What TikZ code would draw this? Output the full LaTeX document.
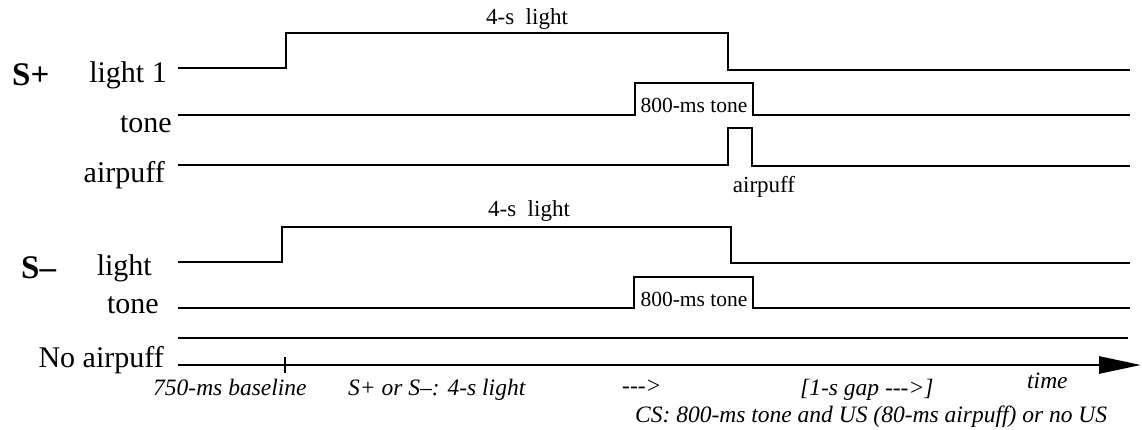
\documentclass[tikz,border=0pt]{standalone}
\usepackage{fontspec}
\setmainfont{Liberation Serif}
\usetikzlibrary{arrows.meta}
\tikzset{
  sig/.style={line width=2.8pt, line join=miter},
  lab/.style={font=\fontsize{30}{34}\selectfont, inner sep=0pt, anchor=base east},
  big/.style={font=\bfseries\fontsize{33}{36}\selectfont, inner sep=0pt, anchor=base west},
  small/.style={font=\fontsize{23}{27}\selectfont, inner sep=0pt, anchor=base},
  tonelab/.style={font=\fontsize{21.5}{25}\selectfont, inner sep=0pt, anchor=base},
  ital/.style={font=\itshape\fontsize{23.5}{27}\selectfont, inner sep=0pt, anchor=base west},
}
\begin{document}
\begin{tikzpicture}[x=1pt,y=-1pt]
\useasboundingbox (0,0) rectangle (1142,430);
% S+ labels
\node[big] (sp) at (12,86) {S+};
\node[lab] (l1) at (167,83) {light 1};
\node[lab] (t1) at (172,133) {tone};
\node[lab] (a1) at (165,183) {airpuff};
% S+ signals
\draw[sig] (178,68) -- (286,68) -- (286,33) -- (728,33) -- (728,70) -- (1130,70);
\draw[sig] (178,115) -- (635,115) -- (635,83) -- (753,83) -- (753,115) -- (1130,115);
\draw[sig] (178,165) -- (728,165) -- (728,128) -- (752,128) -- (752,166) -- (1130,166);
\node[small] (lt1) at (527,25) {4-s\ \ light};
\node[tonelab] (tt1) at (694,113) {800-ms tone};
\node[small] (ap1) at (764,193) {airpuff};
% S- labels
\node[big] (sm) at (21,278) {S–};
\node[lab] (l2) at (152,275) {light};
\node[lab] (t2) at (159,313) {tone};
\node[lab] (a2) at (164,367) {No airpuff};
% S- signals
\draw[sig] (178,262) -- (282,262) -- (282,227) -- (731,227) -- (731,263) -- (1130,263);
\draw[sig] (178,308) -- (634,308) -- (634,277) -- (753,277) -- (753,308) -- (1130,308);
\draw[sig] (178,338) -- (1128,338);
\node[small] (lt2) at (529,217) {4-s\ \ light};
\node[tonelab] (tt2) at (694,306) {800-ms tone};
% time axis
\coordinate (ax0) at (178,365);
\coordinate (ax1) at (1141,365);
\draw[sig, -{Triangle[length=42pt,width=17pt]}] (ax0) -- (ax1);
\coordinate (tk0) at (285,357);
\coordinate (tk1) at (285,373);
\draw[line width=2.2pt] (tk0) -- (tk1);
% bottom texts
\node[ital] (b1) at (153,395) {750-ms baseline};
\node[ital] (b2) at (348,395) {S+ or S–: 4-s light};
\node[ital] (b3) at (622,393) {-{}-{}->};
\node[ital] (b4) at (800,395) {[1-s gap -{}-{}->]};
\node[ital] (b5) at (1027,388) {time};
\node[ital] (b6) at (635,422) {CS: 800-ms tone and US (80-ms airpuff) or no US};
\end{tikzpicture}
\end{document}
